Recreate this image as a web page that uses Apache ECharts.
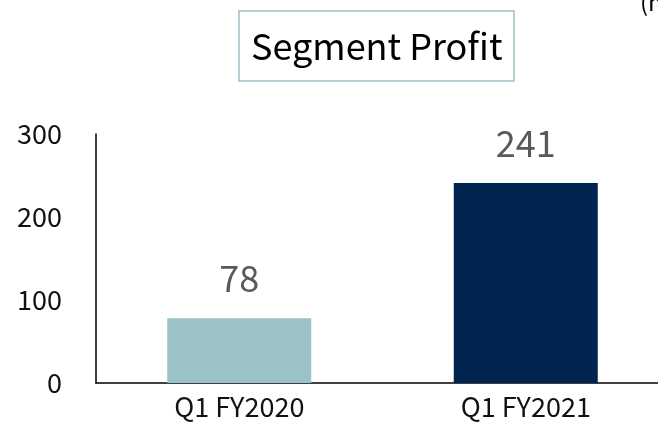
<!DOCTYPE html>
<html>
<head>
<meta charset="utf-8">
<script src="https://cdn.jsdelivr.net/npm/echarts@6/dist/echarts.min.js"></script>
<style>
  html, body { margin: 0; padding: 0; background: #fff; }
  #main { width: 658px; height: 431px; }
</style>
</head>
<body>
<div id="main"></div>
<script>
var categories = ['Q1 FY2020', 'Q1 FY2021'];
var profitValues = [78, 241];
var barColors = ['#9BC2C6', '#002350'];
var yTicks = [0, 100, 200, 300];

var FONT = '"Noto Sans CJK JP", "Noto Sans", sans-serif';

var myChart = echarts.init(document.getElementById('main'));

var option = {
    backgroundColor: '#fff',
    animation: false,
    title: {
        text: 'Segment Profit',
        left: 239,
        top: 11,
        padding: [10, 12],
        borderColor: '#9BC2C6',
        borderWidth: 1.5,
        textStyle: {
            fontFamily: FONT,
            fontSize: 36,
            fontWeight: 'normal',
            color: '#000',
            lineHeight: 50
        }
    },
    graphic: [{
        type: 'text',
        left: 640,
        top: -10,
        style: {
            text: '(millions of yen)',
            font: '24px ' + FONT,
            fill: '#000'
        }
    }],
    grid: {
        left: 96,
        right: -11,
        top: 134,
        bottom: 48,
        outerBoundsMode: 'none'
    },
    xAxis: {
        type: 'category',
        data: categories,
        axisLine: { lineStyle: { color: '#000', width: 1.5 } },
        axisTick: { show: false },
        axisLabel: {
            fontFamily: FONT,
            fontSize: 27,
            color: '#111',
            margin: 10
        }
    },
    yAxis: {
        type: 'value',
        min: yTicks[0],
        max: yTicks[yTicks.length - 1],
        interval: yTicks[1] - yTicks[0],
        splitLine: { show: false },
        axisLine: { show: true, lineStyle: { color: '#000', width: 1.5 } },
        axisTick: { show: false },
        axisLabel: {
            fontFamily: FONT,
            fontSize: 27,
            color: '#111',
            margin: 34
        }
    },
    series: [{
        type: 'bar',
        barWidth: 144,
        data: profitValues.map(function (v, i) {
            return { value: v, itemStyle: { color: barColors[i] } };
        }),
        label: {
            show: true,
            position: 'top',
            distance: 22,
            fontFamily: FONT,
            fontSize: 36,
            color: '#595959'
        }
    }]
};

myChart.setOption(option);
</script>
</body>
</html>
